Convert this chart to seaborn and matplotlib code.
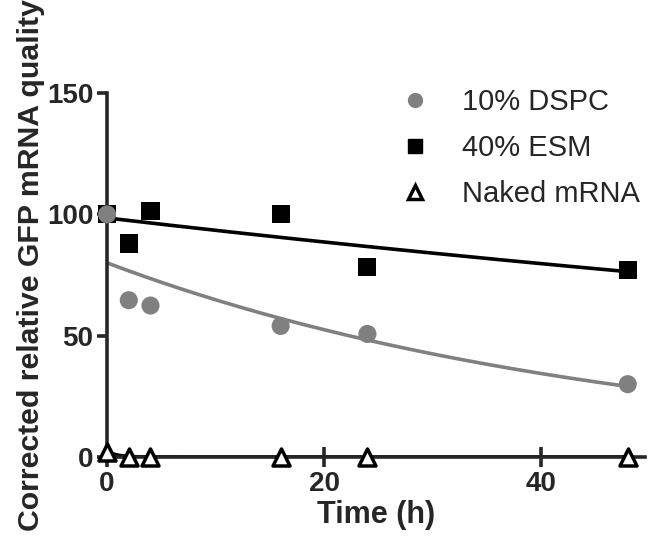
import numpy as np
import pandas as pd
import matplotlib
matplotlib.use("Agg")
import matplotlib.pyplot as plt
import seaborn as sns
from matplotlib.lines import Line2D

time_h = [0, 2, 4, 16, 24, 48]
dspc_10 = [100, 64.6, 62.4, 54, 50.7, 30]
esm_40 = [100, 88, 101.4, 100, 78.2, 77]
naked = [2, 0, 0, 0, 0, 0]

series_names = ["10% DSPC", "40% ESM", "Naked mRNA"]
# one-phase decay fits: (Y0, k)
fit_params = {"10% DSPC": (80, 0.0211), "40% ESM": (98.5, 0.0053), "Naked mRNA": (2.5, 1.2)}

colors = {"10% DSPC": "#808080", "40% ESM": "black", "Naked mRNA": "black"}
markers = {"10% DSPC": "o", "40% ESM": "s", "Naked mRNA": "^"}
zorders = {"10% DSPC": 5, "40% ESM": 3, "Naked mRNA": 4}

df = pd.DataFrame({
    "Time": time_h * 3,
    "Value": dspc_10 + esm_40 + naked,
    "Series": np.repeat(series_names, len(time_h)),
})

sns.set_style("ticks")
plt.rcParams["font.family"] = ["Liberation Sans", "DejaVu Sans"]

fig = plt.figure(figsize=(6.49, 5.44), dpi=100)
ax = fig.add_axes([0.165, 0.160, 0.829, 0.669])

t_fit = np.linspace(0, 48, 200)
for name in series_names:
    y0, k = fit_params[name]
    sns.lineplot(x=t_fit, y=y0 * np.exp(-k * t_fit), color=colors[name], lw=2.6, ax=ax, zorder=2)

for name in series_names:
    sub = df[df["Series"] == name]
    if name == "Naked mRNA":
        sns.scatterplot(data=sub, x="Time", y="Value", marker="^", s=150, facecolor="white",
                        edgecolor="black", linewidth=2.5, ax=ax, zorder=zorders[name], clip_on=False)
    else:
        sns.scatterplot(data=sub, x="Time", y="Value", marker=markers[name], s=170,
                        color=colors[name], edgecolor="none", ax=ax, zorder=zorders[name], clip_on=False)

ax.set_xlim(0, 49.6)
ax.set_ylim(0, 150)
ax.set_xticks([0, 20, 40])
ax.set_yticks([0, 50, 100, 150])
sns.despine(ax=ax)
for sp in ["left", "bottom"]:
    ax.spines[sp].set_linewidth(2.6)
ax.tick_params(width=2.6, length=7, labelsize=20, pad=3)
for lab in ax.get_xticklabels() + ax.get_yticklabels():
    lab.set_fontweight("bold")
ax.tick_params(axis="x", direction="inout", length=14)
ax.set_xlabel("Time (h)", fontsize=22, fontweight="bold", labelpad=2)
ax.set_ylabel("Corrected relative GFP mRNA quality", fontsize=21.8, fontweight="bold")
ax.yaxis.set_label_coords(-0.115, 0.527)

handles = [
    Line2D([], [], marker="o", ls="none", color="#808080", markersize=11, markeredgecolor="none"),
    Line2D([], [], marker="s", ls="none", color="black", markersize=10),
    Line2D([], [], marker="^", ls="none", markerfacecolor="white", markeredgecolor="black",
           markeredgewidth=2.5, markersize=10),
]
ax.legend(handles, series_names, loc="upper left", bbox_to_anchor=(0.497, 1.045), frameon=False,
          fontsize=21, handletextpad=0.6, labelspacing=0.62, borderaxespad=0)

fig.savefig("out.png", dpi=100)
